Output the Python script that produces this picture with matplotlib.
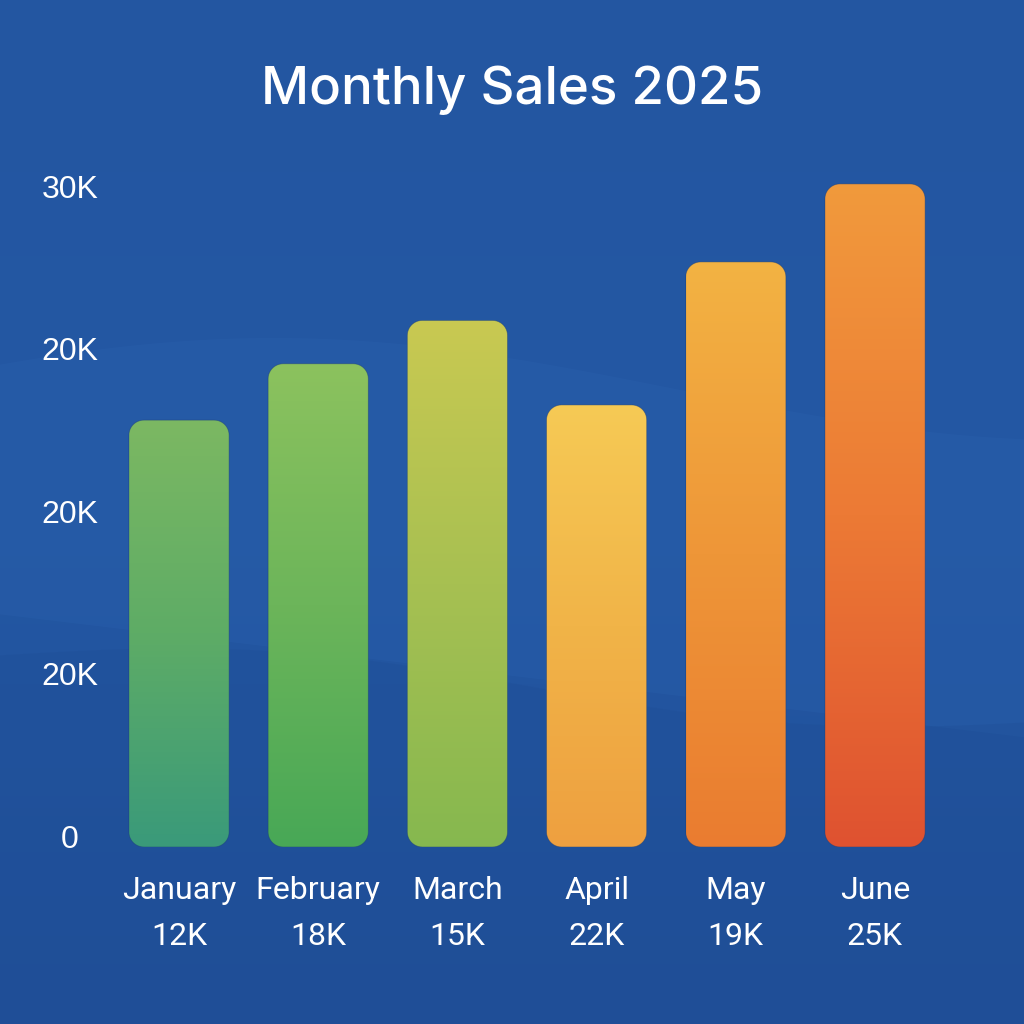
import numpy as np
import matplotlib.pyplot as plt
import matplotlib.transforms as mtransforms
from matplotlib.path import Path
from matplotlib.patches import PathPatch
from matplotlib.colors import LinearSegmentedColormap

# data
months = ['January', 'February', 'March', 'April', 'May', 'June']
value_labels = ['12K', '18K', '15K', '22K', '19K', '25K']
bar_heights = [19700, 22300, 24300, 20400, 27000, 30600]
ytick_values = [0, 7500, 15000, 22500, 30000]
ytick_labels = ['0', '20K', '20K', '20K', '30K']

# top / middle / bottom colour of every bar
top_colors = ['#7cb862', '#8cc25e', '#c9c951', '#f6ca55', '#f3b343', '#f19a3c']
mid_colors = ['#5eac66', '#6cb55a', '#a7c052', '#f1b448', '#ee9638', '#ec7a35']
bottom_colors = ['#3a9a7a', '#48a856', '#86b84f', '#eea040', '#ea7c30', '#df5230']

BG = '#2356a1'


def rounded_rect(x, y, w, h, rx, ry, n=12):
    # closed path of a rectangle with elliptic corners (rx, ry in data units)
    t = np.linspace(0, np.pi / 2, n)
    pts = []
    for cx, cy, a0 in [(x + w - rx, y + ry, -np.pi / 2), (x + w - rx, y + h - ry, 0),
                       (x + rx, y + h - ry, np.pi / 2), (x + rx, y + ry, np.pi)]:
        for a in a0 + t:
            pts.append((cx + rx * np.cos(a), cy + ry * np.sin(a)))
    pts.append(pts[0])
    codes = [Path.MOVETO] + [Path.LINETO] * (len(pts) - 2) + [Path.CLOSEPOLY]
    return Path(pts, codes)


fig = plt.figure(figsize=(10.24, 10.24), dpi=100)
fig.patch.set_facecolor(BG)

# background with a few soft waves
bg = fig.add_axes([0, 0, 1, 1], zorder=0)
bg.set_xlim(0, 1)
bg.set_ylim(0, 1)
bg.axis('off')
grad = np.linspace(0, 1, 256).reshape(-1, 1)
bg_cmap = LinearSegmentedColormap.from_list('bg', ['#1f4f98', '#2458a4', '#2356a1'])
bg.imshow(grad, extent=[0, 1, 0, 1], cmap=bg_cmap, aspect='auto', origin='lower')
xs = np.linspace(0, 1, 200)
bg.fill_between(xs, 0.62 + 0.05 * np.sin(xs * 4 + 0.5), 0.40 - 0.12 * xs, color='#2a60ad', alpha=0.35, lw=0)
bg.fill_between(xs, 0.36 - 0.06 * xs + 0.02 * np.sin(xs * 6), 0.0, color='#1f4e96', alpha=0.35, lw=0)

# main chart axes
px_x = 139.2  # px per category
px_y = 21.67 / 1000  # px per unit
x0, x1 = -0.6, 5.6
y0, y1 = 0, 32000
left_px = 179 - 0.6 * px_x
bottom_px = 1024 - 847
ax = fig.add_axes([left_px / 1024, bottom_px / 1024,
                   (x1 - x0) * px_x / 1024, (y1 - y0) * px_y / 1024], zorder=1)
ax.patch.set_alpha(0)
for s in ax.spines.values():
    s.set_visible(False)

width = 0.72
rx = 15 / px_x
ry = 15 / px_y
for i, h in enumerate(bar_heights):
    cmap = LinearSegmentedColormap.from_list('b%d' % i, [bottom_colors[i], mid_colors[i], top_colors[i]])
    im = ax.imshow(grad, extent=[i - width / 2, i + width / 2, 0, h], cmap=cmap,
                   aspect='auto', origin='lower', zorder=2)
    box = PathPatch(rounded_rect(i - width / 2, 0, width, h, rx, ry),
                    facecolor='none', edgecolor='#1d3f78', lw=0.6, alpha=0.5, zorder=3)
    ax.add_patch(box)
    im.set_clip_path(box)

ax.set_xlim(x0, x1)
ax.set_ylim(y0, y1)

ax.set_yticks(ytick_values)
ax.set_yticklabels(ytick_labels)
ax.set_xticks(range(len(months)))
ax.set_xticklabels([m + '\n' + v for m, v in zip(months, value_labels)],
                   linespacing=1.75)
ax.tick_params(axis='y', length=0, pad=18.5, labelsize=23, labelcolor='white')
ax.tick_params(axis='x', length=0, pad=21, labelsize=23, labelcolor='white')
# y labels sit a few pixels above the bar baseline in the original
shift = mtransforms.ScaledTranslation(0, 7 / 100, fig.dpi_scale_trans)
for t in ax.get_yticklabels():
    t.set_fontfamily('Liberation Sans')
    t.set_va('center')
    t.set_ha('center')
    t.set_transform(t.get_transform() + shift)
for t in ax.get_xticklabels():
    t.set_fontfamily('Roboto')

fig.text(0.5, 1 - 90 / 1024, 'Monthly Sales 2025', ha='center', va='center',
         color='white', fontsize=38, fontweight='medium', family='Inter')

fig.savefig('out.png', dpi=100, facecolor=fig.get_facecolor())
